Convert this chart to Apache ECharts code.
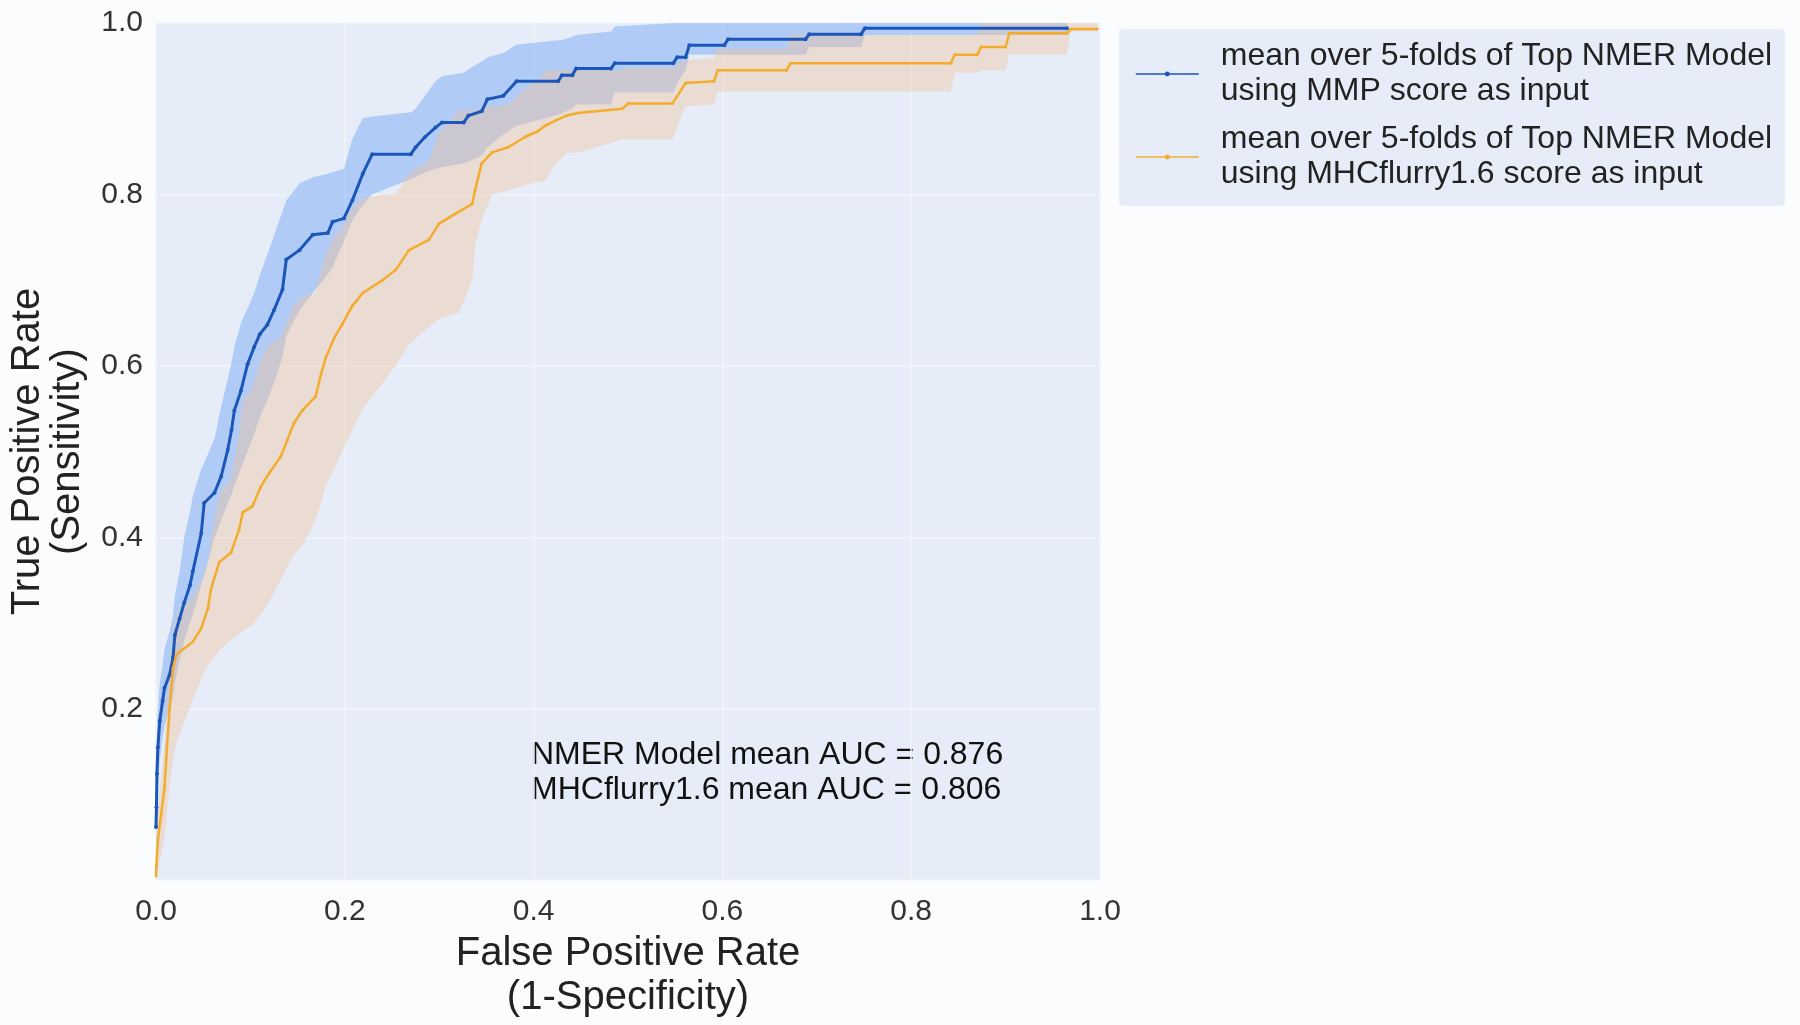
<!DOCTYPE html>
<html>
<head>
<meta charset="utf-8">
<script src="https://cdn.jsdelivr.net/npm/echarts@6/dist/echarts.min.js"></script>
<style>
html,body{margin:0;padding:0;background:#fbfcfe;}
#c{width:1800px;height:1025px;}
</style>
</head>
<body>
<div id="c"></div>
<script>
// ---------- data ----------
const xTicks = [0, 0.2, 0.4, 0.6, 0.8, 1.0];
const yTicks = [0.2, 0.4, 0.6, 0.8, 1.0];

const blueName = 'mean over 5-folds of Top NMER Model\nusing MMP score as input';
const orangeName = 'mean over 5-folds of Top NMER Model\nusing MHCflurry1.6 score as input';

const blueFpr = [0, 0.0005, 0.001, 0.002, 0.004, 0.007, 0.009, 0.0145, 0.018, 0.020,
  0.025, 0.030, 0.036, 0.039, 0.048, 0.051, 0.062, 0.069, 0.076, 0.080,
  0.083, 0.090, 0.097, 0.104, 0.110, 0.118, 0.125, 0.134, 0.138, 0.152,
  0.166, 0.182, 0.187, 0.199, 0.208, 0.219, 0.229, 0.270, 0.275, 0.285,
  0.296, 0.303, 0.326, 0.331, 0.345, 0.351, 0.368, 0.382, 0.426, 0.430,
  0.441, 0.445, 0.482, 0.486, 0.548, 0.552, 0.561, 0.565, 0.602, 0.606,
  0.688, 0.692, 0.747, 0.751, 0.965];
const blueTpr = [0.062, 0.085, 0.124, 0.155, 0.186, 0.209, 0.224, 0.240, 0.259, 0.286,
  0.305, 0.324, 0.344, 0.360, 0.405, 0.440, 0.452, 0.471, 0.502, 0.525,
  0.548, 0.571, 0.602, 0.622, 0.637, 0.648, 0.665, 0.689, 0.724, 0.735,
  0.753, 0.755, 0.768, 0.772, 0.793, 0.824, 0.847, 0.847, 0.855, 0.867,
  0.878, 0.884, 0.884, 0.892, 0.897, 0.911, 0.915, 0.932, 0.932, 0.939,
  0.939, 0.947, 0.947, 0.953, 0.953, 0.960, 0.960, 0.974, 0.974, 0.981,
  0.981, 0.987, 0.987, 0.994, 0.994];
const blueHi = [0.10, 0.13, 0.17, 0.20, 0.23, 0.25, 0.27, 0.29, 0.31, 0.332,
  0.36, 0.40, 0.43, 0.448, 0.48, 0.487, 0.515, 0.552, 0.585, 0.604,
  0.622, 0.65, 0.667, 0.685, 0.706, 0.73, 0.752, 0.78, 0.793, 0.813,
  0.82, 0.824, 0.826, 0.83, 0.865, 0.889, 0.891, 0.896, 0.90, 0.915,
  0.932, 0.938, 0.942, 0.946, 0.955, 0.96, 0.965, 0.975, 0.98, 0.98,
  0.984, 0.986, 0.99, 0.996, 1, 1, 1, 1, 1, 1,
  1, 1, 1, 1, 1];
const blueLo = [0.03, 0.05, 0.08, 0.11, 0.14, 0.165, 0.18, 0.20, 0.215, 0.23,
  0.255, 0.28, 0.30, 0.31, 0.345, 0.355, 0.40, 0.42, 0.44, 0.45,
  0.46, 0.48, 0.50, 0.52, 0.54, 0.56, 0.58, 0.61, 0.635, 0.665,
  0.685, 0.707, 0.715, 0.745, 0.77, 0.788, 0.80, 0.818, 0.82, 0.826,
  0.83, 0.832, 0.836, 0.838, 0.845, 0.855, 0.87, 0.88, 0.893, 0.895,
  0.90, 0.905, 0.905, 0.919, 0.919, 0.93, 0.945, 0.963, 0.963, 0.963,
  0.963, 0.972, 0.972, 0.986, 0.986];

const orangeFpr = [0, 0.0003, 0.002, 0.0056, 0.009, 0.0116, 0.0145, 0.018, 0.0215, 0.039,
  0.048, 0.055, 0.0584, 0.067, 0.0795, 0.088, 0.092, 0.102, 0.111, 0.120,
  0.132, 0.139, 0.146, 0.155, 0.169, 0.175, 0.180, 0.189, 0.197, 0.208,
  0.219, 0.240, 0.254, 0.268, 0.289, 0.300, 0.321, 0.335, 0.338, 0.345,
  0.356, 0.373, 0.391, 0.405, 0.412, 0.423, 0.435, 0.447, 0.494, 0.500,
  0.547, 0.561, 0.591, 0.595, 0.668, 0.672, 0.842, 0.846, 0.870, 0.874,
  0.900, 0.904, 0.965, 0.969, 0.997];
const orangeTpr = [0.005, 0.016, 0.047, 0.078, 0.108, 0.155, 0.201, 0.247, 0.263, 0.278,
  0.294, 0.317, 0.340, 0.371, 0.382, 0.409, 0.429, 0.436, 0.459, 0.475,
  0.494, 0.513, 0.533, 0.548, 0.564, 0.591, 0.610, 0.633, 0.648, 0.670,
  0.685, 0.700, 0.712, 0.735, 0.747, 0.766, 0.780, 0.789, 0.805, 0.836,
  0.849, 0.855, 0.867, 0.874, 0.880, 0.886, 0.892, 0.895, 0.900, 0.906,
  0.906, 0.930, 0.932, 0.945, 0.945, 0.953, 0.953, 0.963, 0.963, 0.972,
  0.972, 0.988, 0.988, 0.993, 0.993];
const orangeHi = [0.01, 0.03, 0.08, 0.12, 0.16, 0.21, 0.25, 0.29, 0.31, 0.33,
  0.35, 0.37, 0.40, 0.45, 0.47, 0.52, 0.56, 0.574, 0.608, 0.625,
  0.633, 0.651, 0.671, 0.681, 0.685, 0.712, 0.73, 0.751, 0.761, 0.785,
  0.795, 0.80, 0.80, 0.825, 0.839, 0.872, 0.898, 0.898, 0.898, 0.902,
  0.902, 0.905, 0.924, 0.933, 0.945, 0.945, 0.945, 0.945, 0.945, 0.948,
  0.948, 0.957, 0.959, 0.97, 0.97, 0.986, 0.986, 0.986, 0.986, 1,
  1, 1, 1, 1, 1];
const orangeLo = [0.0, 0.0, 0.01, 0.03, 0.05, 0.08, 0.11, 0.14, 0.16, 0.21,
  0.235, 0.25, 0.255, 0.268, 0.28, 0.287, 0.29, 0.298, 0.31, 0.325,
  0.35, 0.365, 0.38, 0.39, 0.42, 0.44, 0.46, 0.48, 0.50, 0.525,
  0.55, 0.58, 0.60, 0.625, 0.645, 0.655, 0.662, 0.70, 0.74, 0.77,
  0.80, 0.805, 0.81, 0.815, 0.815, 0.835, 0.849, 0.849, 0.864, 0.864,
  0.864, 0.903, 0.905, 0.92, 0.92, 0.92, 0.92, 0.942, 0.942, 0.945,
  0.945, 0.963, 0.963, 0.99, 0.99];

const aucText = ['NMER Model mean AUC = 0.876', 'MHCflurry1.6 mean AUC = 0.806'];

// ---------- helpers ----------
function pairs(xs, ys) { return xs.map((x, i) => [x, ys[i]]); }

function band(name, xs, hi, lo, color) {
  return {
    type: 'custom',
    name: name,
    silent: true,
    clip: true,
    z: 1,
    data: [[xs[0], lo[0]]],
    encode: { x: 0, y: 1 },
    renderItem: function (params, api) {
      const pts = [];
      for (let i = 0; i < xs.length; i++) pts.push(api.coord([xs[i], hi[i]]));
      for (let i = xs.length - 1; i >= 0; i--) pts.push(api.coord([xs[i], lo[i]]));
      return { type: 'polygon', shape: { points: pts }, style: { fill: color } };
    }
  };
}

const FONT = '"Liberation Sans", Arial, sans-serif';
const chart = echarts.init(document.getElementById('c'), null, { renderer: 'canvas' });

chart.setOption({
  animation: false,
  backgroundColor: '#fbfcfe',
  grid: {
    left: 153, right: 700, top: 23, bottom: 138,
    show: true, backgroundColor: '#e6edf8', borderWidth: 0
  },
  xAxis: {
    type: 'value', min: 0, max: 1, interval: 0.2,
    axisLine: { show: false }, axisTick: { show: false },
    splitLine: { show: true, lineStyle: { color: '#f1f5fb', width: 1.5 } },
    axisLabel: {
      fontFamily: FONT, fontSize: 30, color: '#333', margin: 17,
      formatter: v => (xTicks.some(t => Math.abs(t - v) < 1e-9) ? v.toFixed(1) : '')
    },
    name: 'False Positive Rate\n(1-Specificity)',
    nameLocation: 'middle', nameGap: 50,
    nameTextStyle: { fontFamily: FONT, fontSize: 40, color: '#222', lineHeight: 44 }
  },
  yAxis: {
    type: 'value', min: 0, max: 1, interval: 0.2,
    axisLine: { show: false }, axisTick: { show: false },
    splitLine: { show: true, lineStyle: { color: '#f1f5fb', width: 1.5 } },
    axisLabel: {
      fontFamily: FONT, fontSize: 30, color: '#333', margin: 13,
      formatter: v => (yTicks.some(t => Math.abs(t - v) < 1e-9) ? v.toFixed(1) : '')
    },
    name: 'True Positive Rate\n(Sensitivity)',
    nameLocation: 'middle', nameGap: 68,
    nameTextStyle: { fontFamily: FONT, fontSize: 40, color: '#222', lineHeight: 40 }
  },
  legend: {
    data: [blueName, orangeName],
    orient: 'vertical',
    left: 1119, top: 29,
    padding: [10, 13, 14, 16],
    itemGap: 13,
    itemWidth: 63, itemHeight: 6,
    selectedMode: false,
    backgroundColor: '#e6edf8',
    borderColor: '#f2f5fb', borderWidth: 1, borderRadius: 4,
    lineStyle: { width: 1.5 },
    textStyle: { fontFamily: FONT, fontSize: 32, lineHeight: 35, color: '#222', padding: [0, 0, 0, 17] }
  },
  graphic: [{
    type: 'text', left: 531, top: 738,
    style: { text: aucText.join('\n'), fontFamily: FONT, fontSize: 32, lineHeight: 35, fill: '#111' }
  }],
  series: [
    band('blueBand', blueFpr, blueHi, blueLo, 'rgba(110,165,245,0.45)'),
    band('orangeBand', orangeFpr, orangeHi, orangeLo, 'rgba(245,192,150,0.38)'),
    {
      name: blueName, type: 'line', z: 4,
      data: pairs(blueFpr, blueTpr),
      showSymbol: true, symbol: 'circle', symbolSize: 4,
      lineStyle: { color: '#1b56b8', width: 3 },
      itemStyle: { color: '#1b56b8' }
    },
    {
      name: orangeName, type: 'line', z: 5,
      data: pairs(orangeFpr, orangeTpr),
      showSymbol: true, symbol: 'circle', symbolSize: 3,
      lineStyle: { color: '#f3ac2e', width: 2.5 },
      itemStyle: { color: '#f3ac2e' }
    }
  ]
});
</script>
</body>
</html>
